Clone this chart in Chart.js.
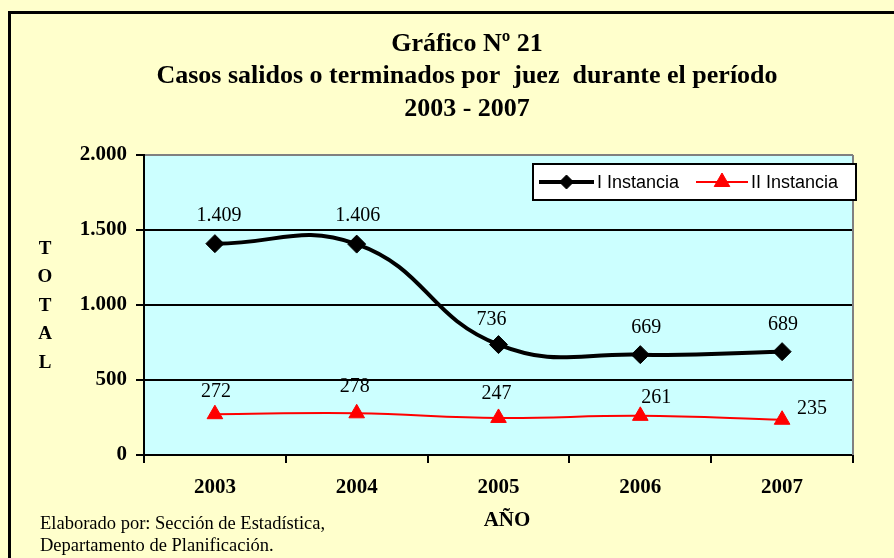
<!DOCTYPE html>
<html>
<head>
<meta charset="utf-8">
<script src="https://cdn.jsdelivr.net/npm/chart.js@4.4.1/dist/chart.umd.min.js"></script>
<style>
    html, body { margin: 0; padding: 0; background: #FFFFCC; }
    #wrap { width: 894px; height: 558px; }
</style>
</head>
<body>
<div id="wrap"><canvas id="grafico" width="894" height="558"></canvas></div>
<script>
// Datos del gráfico
const years = ['2003', '2004', '2005', '2006', '2007'];
const primeraInstancia = [1409, 1406, 736, 669, 689];
const segundaInstancia = [272, 278, 247, 261, 235];
const yTicks = [0, 500, 1000, 1500, 2000];
const seriesNames = ['I Instancia', 'II Instancia'];
const titleLines = ['Gráfico Nº 21', 'Casos salidos o terminados por  juez  durante el período', '2003 - 2007'];
const yTitle = ['T', 'O', 'T', 'A', 'L'];
const xTitle = 'AÑO';
const footerLines = ['Elaborado por: Sección de Estadística,', 'Departamento de Planificación.'];

const SERIF = "'Times New Roman', 'Liberation Serif', serif";
const SANS = "Arial, 'Liberation Sans', sans-serif";

// 1409 -> "1.409"
const fmt = n => String(n).replace(/\B(?=(\d{3})+(?!\d))/g, '.');

// Desplazamiento de las etiquetas de datos (dx, dy respecto al punto)
const labelShift = [
    [[4, -28], [1, -28], [-7, -25], [6, -27], [1, -27]],
    [[1, -22], [-2, -27], [-2, -24], [16, -18], [30, -11]]
];

const decor = {
    id: 'decor',
    beforeDraw: (chart) => {
        const { ctx, chartArea: a } = chart;
        ctx.save();
        ctx.fillStyle = '#FFFFCC';
        ctx.fillRect(0, 0, chart.width, chart.height);
        ctx.strokeStyle = '#000';
        ctx.lineWidth = 3;
        ctx.strokeRect(9.5, 12.5, chart.width + 20, chart.height + 20);
        ctx.fillStyle = '#CCFFFF';
        ctx.fillRect(a.left, a.top, a.right - a.left, a.bottom - a.top);
        ctx.restore();
    },
    beforeDatasetsDraw: (chart) => {
        const { ctx, chartArea: a } = chart;
        ctx.save();
        ctx.strokeStyle = '#808080';
        ctx.lineWidth = 2;
        ctx.beginPath();
        ctx.moveTo(a.right, a.top);
        ctx.lineTo(a.right, a.bottom);
        ctx.stroke();
        ctx.restore();
    },
    afterDatasetsDraw: (chart) => {
        const { ctx } = chart;
        ctx.save();
        ctx.font = '20px ' + SERIF;
        ctx.fillStyle = '#000';
        ctx.textAlign = 'center';
        ctx.textBaseline = 'middle';
        chart.data.datasets.forEach((ds, di) => {
            chart.getDatasetMeta(di).data.forEach((pt, i) => {
                const s = labelShift[di][i];
                ctx.fillText(fmt(ds.data[i]), pt.x + s[0], pt.y + s[1]);
            });
        });
        ctx.restore();
    },
    afterDraw: (chart) => {
        const { ctx } = chart;
        ctx.save();
        ctx.fillStyle = '#000';
        ctx.textBaseline = 'middle';

        // Título
        ctx.font = 'bold 26px ' + SERIF;
        ctx.textAlign = 'center';
        titleLines.forEach((t, i) => ctx.fillText(t, 467, 44 + i * 32.5));

        // Título eje Y en letras apiladas
        ctx.font = 'bold 19px ' + SERIF;
        yTitle.forEach((l, i) => ctx.fillText(l, 45, 249 + i * 28.5));

        // Título eje X
        ctx.font = 'bold 21px ' + SERIF;
        ctx.fillText(xTitle, 507, 521);

        // Fuente
        ctx.font = '18.5px ' + SERIF;
        ctx.textAlign = 'left';
        footerLines.forEach((t, i) => ctx.fillText(t, 40, 524 + i * 22));

        // Leyenda
        const lx = 533, ly = 164, lw = 323, lh = 36;
        ctx.fillStyle = '#fff';
        ctx.fillRect(lx, ly, lw, lh);
        ctx.strokeStyle = '#000';
        ctx.lineWidth = 2;
        ctx.strokeRect(lx, ly, lw, lh);
        const cy = ly + lh / 2;
        const items = [
            { x0: 539, x1: 594, tx: 597, style: 'rectRot', r: 7 },
            { x0: 696, x1: 748, tx: 751, style: 'triangle', r: 9 }
        ];
        items.forEach((it, di) => {
            const ds = chart.data.datasets[di];
            ctx.strokeStyle = ds.borderColor;
            ctx.lineWidth = ds.borderWidth;
            ctx.beginPath();
            ctx.moveTo(it.x0, cy);
            ctx.lineTo(it.x1, cy);
            ctx.stroke();
            ctx.fillStyle = ds.backgroundColor;
            ctx.lineWidth = 1;
            Chart.helpers.drawPoint(ctx, { pointStyle: it.style, radius: it.r, borderWidth: 1 }, (it.x0 + it.x1) / 2, cy);
            ctx.fillStyle = '#000';
            ctx.font = '18px ' + SANS;
            ctx.fillText(ds.label, it.tx, cy + 1);
        });
        ctx.restore();
    }
};

const ctx = document.getElementById('grafico').getContext('2d');
new Chart(ctx, {
    type: 'line',
    data: {
        labels: years,
        datasets: [{
            label: seriesNames[0],
            data: primeraInstancia,
            borderColor: '#000000',
            backgroundColor: '#000000',
            borderWidth: 4,
            pointStyle: 'rectRot',
            pointRadius: 9,
            pointBorderWidth: 1,
            tension: 0.45,
            clip: false
        }, {
            label: seriesNames[1],
            data: segundaInstancia,
            borderColor: '#FF0000',
            backgroundColor: '#FF0000',
            borderWidth: 2,
            pointStyle: 'triangle',
            pointRadius: 9,
            pointBorderWidth: 1,
            tension: 0.4,
            clip: false
        }]
    },
    options: {
        responsive: false,
        animation: false,
        devicePixelRatio: 1,
        layout: { padding: { left: 0, top: 155, right: 41, bottom: 0 } },
        plugins: {
            legend: { display: false },
            title: { display: false },
            tooltip: { enabled: false }
        },
        scales: {
            x: {
                offset: true,
                afterFit: (s) => { s.height = 103; },
                grid: { offset: true, drawOnChartArea: false, tickLength: 8, tickColor: '#000', lineWidth: 2 },
                border: { color: '#000', width: 2 },
                ticks: { color: '#000', padding: 12, font: { family: SERIF, size: 21, weight: 'bold' } }
            },
            y: {
                min: 0,
                max: 2000,
                afterFit: (s) => { s.width = 144; },
                afterBuildTicks: (s) => { s.ticks = yTicks.map(v => ({ value: v })); },
                grid: {
                    color: (c) => c.tick && c.tick.value === 2000 ? '#808080' : '#000',
                    tickColor: '#000',
                    lineWidth: 2,
                    tickLength: 8
                },
                border: { color: '#000', width: 2 },
                ticks: {
                    color: '#000',
                    padding: 9,
                    font: { family: SERIF, size: 21, weight: 'bold' },
                    callback: (v) => fmt(v)
                }
            }
        }
    },
    plugins: [decor]
});
</script>
</body>
</html>
